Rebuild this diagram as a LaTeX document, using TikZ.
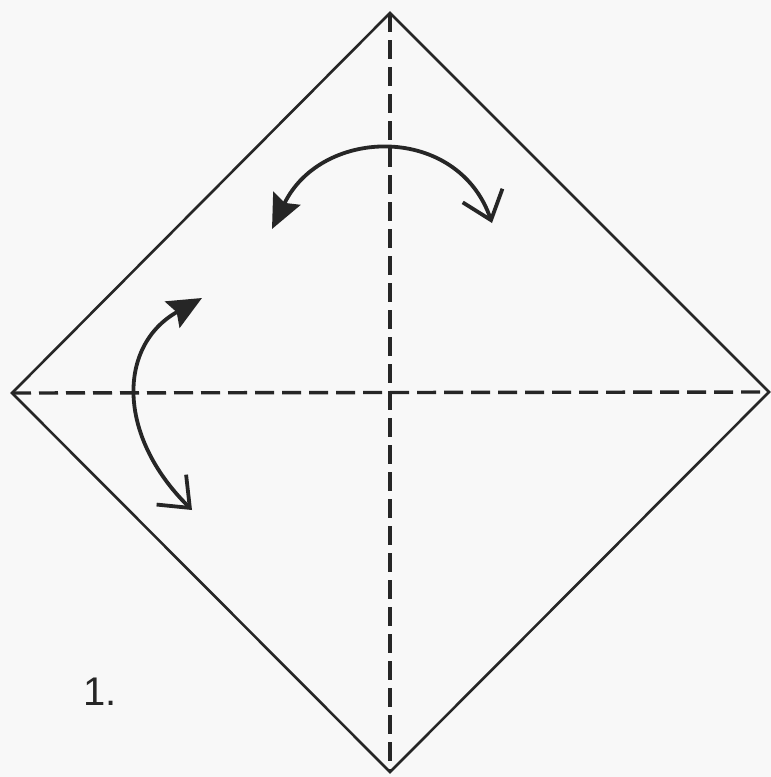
\documentclass[tikz,border=0pt]{standalone}
\usepackage{fontspec}
\setmainfont{Liberation Sans}
\usetikzlibrary{arrows.meta}
\definecolor{ink}{HTML}{262626}
\definecolor{paper}{HTML}{F8F8F8}
\begin{document}
\begin{tikzpicture}[x=1pt,y=-1pt,
  edge/.style={draw=ink,line width=2.6pt,line join=miter},
  crease/.style={draw=ink,line width=3.4pt,dash pattern=on 19pt off 8pt},
  swing/.style={draw=ink,line width=3.8pt,
    {Stealth[length=34pt,width=30pt,inset=5pt]}-{Straight Barb[length=26pt,width=42pt,line width=3.8pt]}}]
\fill[paper] (0,0) rectangle (771,777);
\useasboundingbox (0,0) rectangle (771,777);
\coordinate (T) at (390,13);
\coordinate (L) at (12,393);
\coordinate (R) at (769,392);
\coordinate (B) at (390,772);
\draw[crease] (T) -- (B);
\draw[crease] (L) -- (R);
\draw[edge] (T) -- (R) -- (B) -- (L) -- cycle;
\coordinate (a1) at (272,229);
\coordinate (a2) at (492,223);
\draw[swing] (a1) .. controls (322,126) and (458,124) .. (a2);
\coordinate (b1) at (202,298);
\coordinate (b2) at (192,510);
\draw[swing] (b1) .. controls (118,345) and (116,435) .. (b2);
\node[text=ink,font=\fontsize{40}{40}\selectfont,anchor=base west] (n1) at (80,705) {1.};
\end{tikzpicture}
\end{document}
